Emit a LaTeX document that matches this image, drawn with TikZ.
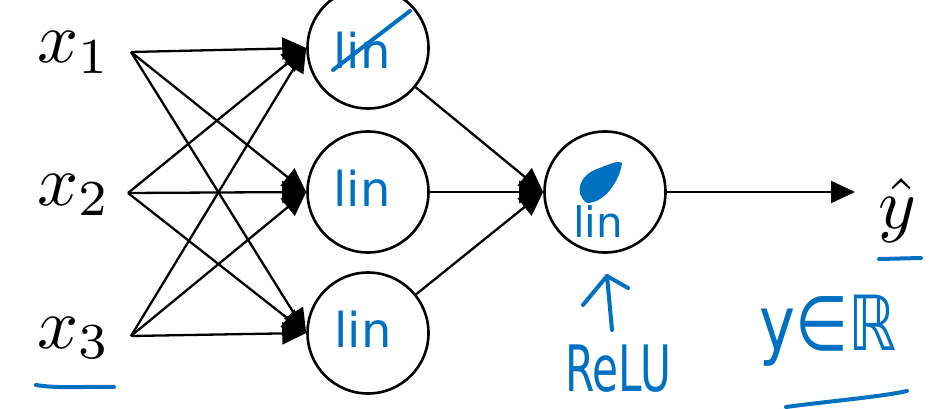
\documentclass[tikz,border=0pt]{standalone}
\usepackage{fontspec}
\newfontfamily\hand{DejaVu Sans}
\usetikzlibrary{arrows.meta}
\definecolor{ink}{RGB}{0,112,192}
\begin{document}
\begin{tikzpicture}[x=1pt,y=-1pt,
  unit/.style={circle,draw,line width=2.6pt,minimum size=121pt,inner sep=0pt},
  lbl/.style={inner sep=0pt,scale=7.2},
  wire/.style={line width=2.3pt,-{Triangle[length=24pt,width=22pt]}},
  pen/.style={draw=ink,line width=4pt,line cap=round,line join=round},
  note/.style={text=ink,inner sep=0pt,font=\hand\fontsize{48}{48}\selectfont}]
\useasboundingbox (0,0) rectangle (937,409);

% units of the network
\node[unit] (h1) at (368,48) {};
\node[unit] (h2) at (368,192) {};
\node[unit] (h3) at (368,333) {};
\node[unit] (o)  at (605,192) {};

% input labels and the points the wires leave from
\node[lbl,anchor=base west] (x1) at (36,63)  {$x_1$};
\node[lbl,anchor=base west] (x2) at (36,205) {$x_2$};
\node[lbl,anchor=base west] (x3) at (36,348) {$x_3$};
\coordinate (s1) at (131,52);
\coordinate (s2) at (128,193);
\coordinate (s3) at (131,336);

% fully connected input layer
\foreach \s in {s1,s2,s3}
  \foreach \h in {h1,h2,h3}
    \draw[wire] (\s) -- (\h.west);

% hidden layer into the output unit
\foreach \h in {h1,h2,h3}
  \draw[wire] (\h) -- (o.west);

% output
\coordinate (tip) at (855,192);
\draw[wire] (o) -- (tip);
\node[lbl,anchor=base] (yh) at (897,228) {$\hat{y}$};

% pen notes inside the units
\node[note] (n1) at (362,50)  {lin};
\node[note] (n2) at (362,188) {lin};
\node[note] (n3) at (363,329) {lin};
\node[note,font=\hand\fontsize{42}{42}\selectfont] (n4) at (598,222) {lin};
\draw[pen] (333,70) -- (410,11);
\fill[ink] (587,203) .. controls (573,193) and (580,175) .. (597,169)
  .. controls (608,165) and (617,160) .. (622,163)
  .. controls (620,180) and (605,203) .. cycle;

% activation notes
\node[note,font=\hand\fontsize{64}{64}\selectfont,xscale=0.66,anchor=base] (relu) at (618,391) {ReLU};
\draw[pen] (612,330) -- (607,276);
\draw[pen] (583,305) -- (607,276) -- (628,288);
\node[note,font=\hand\fontsize{76}{76}\selectfont,xscale=0.8,anchor=base] (yr) at (828,350) {y∈ℝ};

% underlines
\draw[pen] (36,385) .. controls (60,389) and (90,386) .. (114,387);
\draw[pen] (879,259) -- (921,258);
\draw[pen] (786,407) .. controls (830,401) and (880,397) .. (907,391);
\end{tikzpicture}
\end{document}
